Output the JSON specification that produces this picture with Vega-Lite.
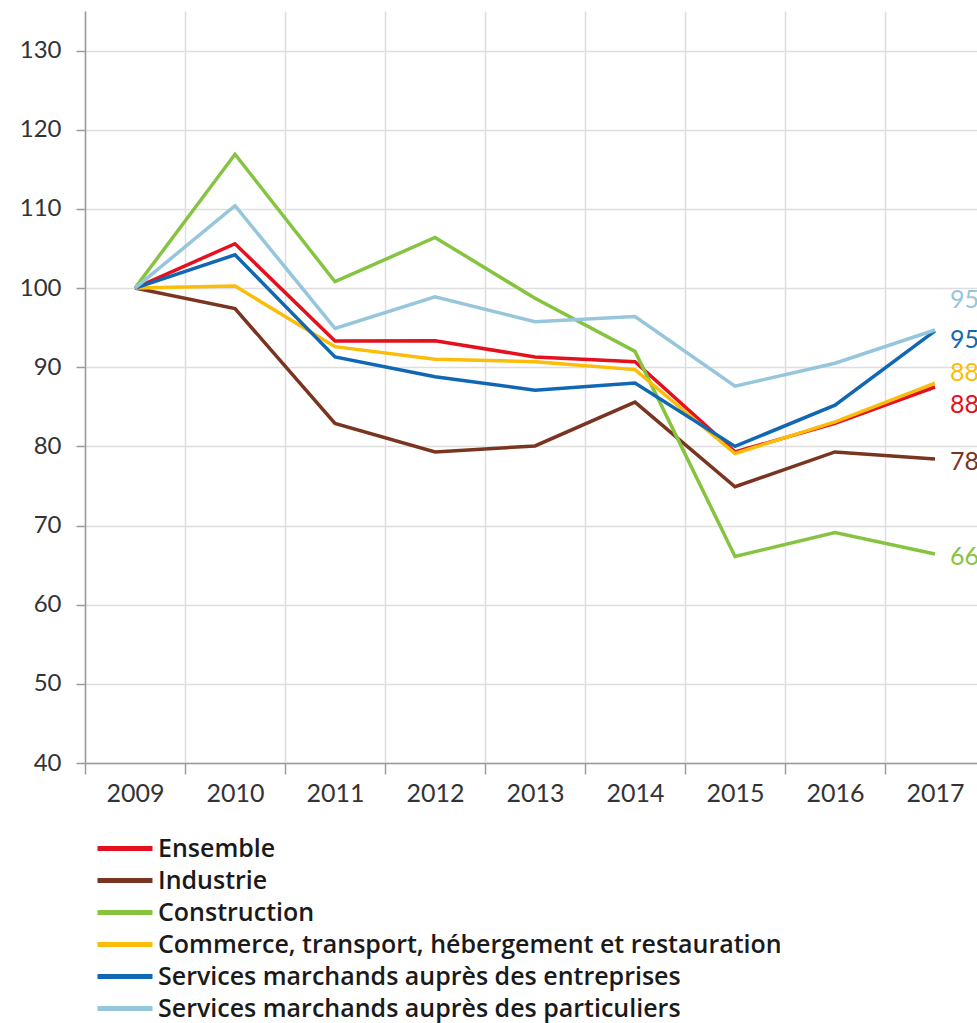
{
  "$schema": "https://vega.github.io/schema/vega-lite/v6.json",
  "autosize": {"type": "none"},
  "padding": {"left": 85, "top": 11, "right": 0, "bottom": 260},
  "width": 892,
  "height": 752,
  "background": "white",
  "config": {
    "font": "Lato",
    "view": {"stroke": null},
    "axis": {"labelColor": "#333333", "labelFont": "Lato", "labelFontSize": 24, "domainColor": "#9a9a9a", "domainWidth": 1.5, "tickColor": "#9a9a9a", "tickWidth": 1.5, "gridColor": "#dedede", "gridWidth": 1.5, "title": null}
  },
  "data": {
    "values": [
      {"annee": "2009", "serie": "Ensemble", "valeur": 100},
      {"annee": "2010", "serie": "Ensemble", "valeur": 105.6},
      {"annee": "2011", "serie": "Ensemble", "valeur": 93.3},
      {"annee": "2012", "serie": "Ensemble", "valeur": 93.35},
      {"annee": "2013", "serie": "Ensemble", "valeur": 91.3},
      {"annee": "2014", "serie": "Ensemble", "valeur": 90.7},
      {"annee": "2015", "serie": "Ensemble", "valeur": 79.3},
      {"annee": "2016", "serie": "Ensemble", "valeur": 82.9},
      {"annee": "2017", "serie": "Ensemble", "valeur": 87.5},
      {"annee": "2009", "serie": "Industrie", "valeur": 100},
      {"annee": "2010", "serie": "Industrie", "valeur": 97.4},
      {"annee": "2011", "serie": "Industrie", "valeur": 82.9},
      {"annee": "2012", "serie": "Industrie", "valeur": 79.3},
      {"annee": "2013", "serie": "Industrie", "valeur": 80.05},
      {"annee": "2014", "serie": "Industrie", "valeur": 85.6},
      {"annee": "2015", "serie": "Industrie", "valeur": 74.9},
      {"annee": "2016", "serie": "Industrie", "valeur": 79.3},
      {"annee": "2017", "serie": "Industrie", "valeur": 78.4},
      {"annee": "2009", "serie": "Construction", "valeur": 100},
      {"annee": "2010", "serie": "Construction", "valeur": 116.9},
      {"annee": "2011", "serie": "Construction", "valeur": 100.8},
      {"annee": "2012", "serie": "Construction", "valeur": 106.4},
      {"annee": "2013", "serie": "Construction", "valeur": 98.7},
      {"annee": "2014", "serie": "Construction", "valeur": 92.0},
      {"annee": "2015", "serie": "Construction", "valeur": 66.1},
      {"annee": "2016", "serie": "Construction", "valeur": 69.1},
      {"annee": "2017", "serie": "Construction", "valeur": 66.4},
      {"annee": "2009", "serie": "Commerce, transport, hébergement et restauration", "valeur": 100},
      {"annee": "2010", "serie": "Commerce, transport, hébergement et restauration", "valeur": 100.25},
      {"annee": "2011", "serie": "Commerce, transport, hébergement et restauration", "valeur": 92.6},
      {"annee": "2012", "serie": "Commerce, transport, hébergement et restauration", "valeur": 91.0},
      {"annee": "2013", "serie": "Commerce, transport, hébergement et restauration", "valeur": 90.7},
      {"annee": "2014", "serie": "Commerce, transport, hébergement et restauration", "valeur": 89.7},
      {"annee": "2015", "serie": "Commerce, transport, hébergement et restauration", "valeur": 79.1},
      {"annee": "2016", "serie": "Commerce, transport, hébergement et restauration", "valeur": 83.1},
      {"annee": "2017", "serie": "Commerce, transport, hébergement et restauration", "valeur": 88.0},
      {"annee": "2009", "serie": "Services marchands auprès des entreprises", "valeur": 100},
      {"annee": "2010", "serie": "Services marchands auprès des entreprises", "valeur": 104.2},
      {"annee": "2011", "serie": "Services marchands auprès des entreprises", "valeur": 91.3},
      {"annee": "2012", "serie": "Services marchands auprès des entreprises", "valeur": 88.8},
      {"annee": "2013", "serie": "Services marchands auprès des entreprises", "valeur": 87.1},
      {"annee": "2014", "serie": "Services marchands auprès des entreprises", "valeur": 88.0},
      {"annee": "2015", "serie": "Services marchands auprès des entreprises", "valeur": 80.0},
      {"annee": "2016", "serie": "Services marchands auprès des entreprises", "valeur": 85.2},
      {"annee": "2017", "serie": "Services marchands auprès des entreprises", "valeur": 94.6},
      {"annee": "2009", "serie": "Services marchands auprès des particuliers", "valeur": 100},
      {"annee": "2010", "serie": "Services marchands auprès des particuliers", "valeur": 110.4},
      {"annee": "2011", "serie": "Services marchands auprès des particuliers", "valeur": 94.9},
      {"annee": "2012", "serie": "Services marchands auprès des particuliers", "valeur": 98.9},
      {"annee": "2013", "serie": "Services marchands auprès des particuliers", "valeur": 95.75},
      {"annee": "2014", "serie": "Services marchands auprès des particuliers", "valeur": 96.4},
      {"annee": "2015", "serie": "Services marchands auprès des particuliers", "valeur": 87.6},
      {"annee": "2016", "serie": "Services marchands auprès des particuliers", "valeur": 90.5},
      {"annee": "2017", "serie": "Services marchands auprès des particuliers", "valeur": 94.7}
    ]
  },
  "encoding": {
    "x": {
      "field": "annee", "type": "ordinal",
      "scale": {"type": "band", "range": [0, 900], "paddingInner": 0, "paddingOuter": 0},
      "axis": {"tickBand": "extent", "labelAngle": 0, "tickSize": 11, "labelPadding": 7, "labelFontSize": 25, "grid": true, "domain": true}
    },
    "y": {
      "field": "valeur", "type": "quantitative",
      "scale": {"domain": [40, 135], "nice": false, "zero": false},
      "axis": {"values": [40, 50, 60, 70, 80, 90, 100, 110, 120, 130], "tickSize": 9, "labelPadding": 15, "grid": true}
    },
    "color": {
      "field": "serie", "type": "nominal",
      "scale": {
        "domain": ["Ensemble", "Industrie", "Construction", "Commerce, transport, hébergement et restauration", "Services marchands auprès des entreprises", "Services marchands auprès des particuliers"],
        "range": ["#e5101d", "#7a3520", "#86c440", "#fbbd0a", "#1068b4", "#95c6dc"]
      },
      "legend": {
        "orient": "none", "legendX": 10, "legendY": 824, "direction": "vertical",
        "title": null, "symbolType": "M-1,0H4", "symbolSize": 484, "symbolStrokeWidth": 5,
        "labelFont": "Open Sans", "labelFontSize": 25, "labelFontWeight": 600, "labelColor": "#1a1a1a",
        "labelOffset": 36, "labelLimit": 1000, "rowPadding": 5, "padding": 0
      }
    }
  },
  "layer": [
    {"mark": {"type": "line", "strokeWidth": 3.5}},
    {
      "transform": [{"filter": "datum.annee == '2017' && datum.serie == 'Services marchands auprès des particuliers'"}],
      "mark": {"type": "text", "align": "left", "baseline": "middle", "dx": 15, "dy": -30, "fontSize": 25},
      "encoding": {"text": {"field": "valeur", "format": ".0f"}}
    },
    {
      "transform": [{"filter": "datum.annee == '2017' && datum.serie == 'Services marchands auprès des entreprises'"}],
      "mark": {"type": "text", "align": "left", "baseline": "middle", "dx": 15, "dy": 9, "fontSize": 25},
      "encoding": {"text": {"field": "valeur", "format": ".0f"}}
    },
    {
      "transform": [{"filter": "datum.annee == '2017' && datum.serie == 'Commerce, transport, hébergement et restauration'"}],
      "mark": {"type": "text", "align": "left", "baseline": "middle", "dx": 15, "dy": -10, "fontSize": 25},
      "encoding": {"text": {"field": "valeur", "format": ".0f"}}
    },
    {
      "transform": [{"filter": "datum.annee == '2017' && datum.serie == 'Ensemble'"}],
      "mark": {"type": "text", "align": "left", "baseline": "middle", "dx": 15, "dy": 18, "fontSize": 25},
      "encoding": {"text": {"field": "valeur", "format": ".0f"}}
    },
    {
      "transform": [{"filter": "datum.annee == '2017' && (datum.serie == 'Industrie' || datum.serie == 'Construction')"}],
      "mark": {"type": "text", "align": "left", "baseline": "middle", "dx": 15, "dy": 3, "fontSize": 25},
      "encoding": {"text": {"field": "valeur", "format": ".0f"}}
    }
  ]
}
